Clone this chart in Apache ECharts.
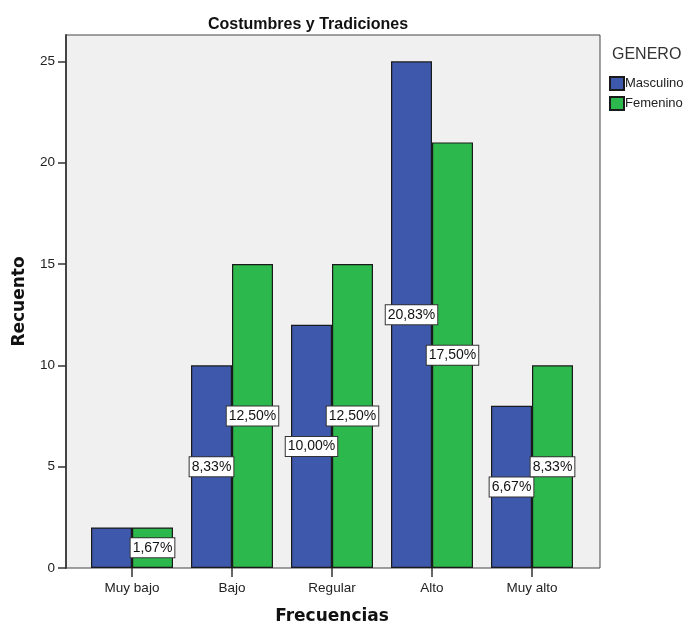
<!DOCTYPE html>
<html>
<head>
<meta charset="utf-8">
<script src="https://cdn.jsdelivr.net/npm/echarts@6/dist/echarts.min.js"></script>
<style>
  html, body { margin: 0; padding: 0; background: #fff; }
  #chart { width: 684px; height: 625px; }
</style>
</head>
<body>
<div id="chart"></div>
<script>
// Frecuencias por género
const categories = ['Muy bajo', 'Bajo', 'Regular', 'Alto', 'Muy alto'];
const masculino = [2, 10, 12, 25, 8];
const femenino = [2, 15, 15, 21, 10];
const yTicks = [0, 5, 10, 15, 20, 25];
const yMax = 26.3;

const total = masculino.concat(femenino).reduce((a, b) => a + b, 0);
const pct = v => (v / total * 100).toFixed(2).replace('.', ',') + '%';

const FONT = '"Liberation Sans", Arial, sans-serif';
const labelStyle = {
  show: true,
  position: 'inside',
  formatter: p => pct(p.value),
  fontFamily: FONT,
  fontSize: 14,
  color: '#111',
  backgroundColor: '#fff',
  borderColor: '#333',
  borderWidth: 1,
  padding: [3, 2, 2, 2]
};

// the first Masculino label overlaps its neighbour and is left out
const mascData = masculino.map((v, i) => i === 0 ? { value: v, label: { show: false } } : v);

const chart = echarts.init(document.getElementById('chart'), null, { renderer: 'canvas' });
chart.setOption({
  backgroundColor: '#fff',
  animation: false,
  title: [
    { text: 'Costumbres y Tradiciones', left: 203, top: 12,
      textStyle: { fontFamily: FONT, fontSize: 16, fontWeight: 'bold', color: '#111' } },
    { text: 'GENERO', left: 607, top: 42,
      textStyle: { fontFamily: FONT, fontSize: 16, fontWeight: 'normal', color: '#333' } }
  ],
  legend: {
    orient: 'vertical', left: 604, top: 71,
    itemWidth: 14, itemHeight: 13, itemGap: 5,
    icon: 'rect',
    textStyle: { fontFamily: FONT, fontSize: 13, color: '#222', padding: [0, 0, 0, -4] },
    data: ['Masculino', 'Femenino']
  },
  grid: [
    { left: 66, right: 84, top: 35, bottom: 57, show: true, outerBoundsMode: 'none', containLabel: false,
      backgroundColor: '#F0F0F0', borderColor: '#444', borderWidth: 1 },
    { left: 82, right: 102, top: 35, bottom: 57, outerBoundsMode: 'none', containLabel: false }
  ],
  xAxis: [
    { gridIndex: 0, type: 'value', show: false, min: 0, max: 1 },
    { gridIndex: 1, type: 'category', data: categories,
      name: 'Frecuencias', nameLocation: 'middle', nameGap: 40,
      nameTextStyle: { fontFamily: '"DejaVu Sans", sans-serif', fontSize: 17, fontWeight: 'bold', color: '#111' },
      axisLine: { show: false },
      axisTick: { show: true, alignWithLabel: true, length: 9, lineStyle: { color: '#333', width: 1.5 } },
      axisLabel: { fontFamily: FONT, fontSize: 13.5, color: '#222', margin: 13 } }
  ],
  yAxis: [
    { gridIndex: 0, type: 'value', min: 0, max: yMax, interval: 5,
      name: 'Recuento', nameLocation: 'middle', nameGap: 38,
      nameTextStyle: { fontFamily: '"DejaVu Sans", sans-serif', fontSize: 17, fontWeight: 'bold', color: '#111' },
      axisLine: { show: true, lineStyle: { color: '#444', width: 2 } },
      axisTick: { show: true, length: 8, customValues: yTicks, lineStyle: { color: '#333', width: 1.5 } },
      axisLabel: { fontFamily: FONT, fontSize: 13.5, color: '#222', margin: 11, customValues: yTicks },
      splitLine: { show: false } },
    { gridIndex: 1, type: 'value', min: 0, max: yMax, show: false, splitLine: { show: false } }
  ],
  series: [
    { name: 'Masculino', type: 'bar', xAxisIndex: 1, yAxisIndex: 1,
      data: mascData, barGap: '0%', barCategoryGap: '18%',
      itemStyle: { color: '#3E58AC', borderColor: '#1a1a1a', borderWidth: 1.2 },
      label: labelStyle },
    { name: 'Femenino', type: 'bar', xAxisIndex: 1, yAxisIndex: 1,
      data: femenino, barGap: '0%', barCategoryGap: '18%',
      itemStyle: { color: '#2DB84D', borderColor: '#1a1a1a', borderWidth: 1.2 },
      label: labelStyle }
  ]
});
</script>
</body>
</html>
